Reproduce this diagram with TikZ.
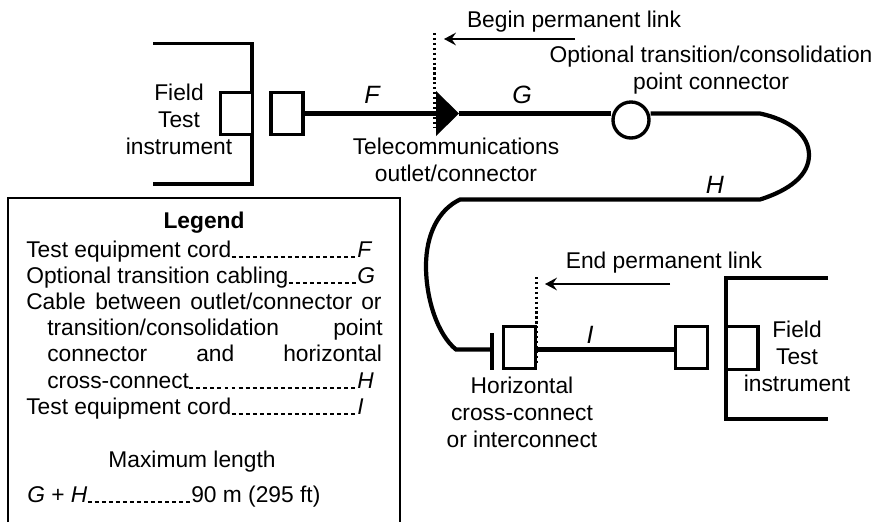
\documentclass[tikz,border=0pt]{standalone}
\usepackage{fontspec}
\setmainfont{Liberation Sans}
\usetikzlibrary{arrows.meta}
\tikzstyle{plugBox}=[draw,line width=2.4pt,fill=white,minimum width=0.8cm,minimum height=1.06cm,inner sep=0pt]
\tikzstyle{cableLine}=[line width=3pt]
\tikzstyle{wallLine}=[line width=2.4pt]
\tikzstyle{linkMark}=[line width=1.6pt, dash pattern=on 1.6pt off 1.9pt]
\tikzstyle{linkArrow}=[line width=1pt, -{Stealth[length=0.3cm,width=0.32cm,inset=0.11cm]}]
\tikzstyle{leader}=[line width=1.4pt, dash pattern=on 2.8pt off 2.2pt]
\tikzstyle{labelText}=[inner sep=0pt, align=center, font=\fontsize{16.2}{18.85}\selectfont, anchor=base]
\tikzstyle{legendText}=[inner sep=0pt, font=\fontsize{16.2}{18.85}\selectfont, anchor=base west]
\tikzstyle{cableLetter}=[inner sep=0pt, font=\fontsize{17.8}{20}\selectfont\itshape, anchor=base]

\begin{document}
\begin{tikzpicture}[x=0.025cm,y=-0.025cm]
    \useasboundingbox (0,0) rectangle (874,522);

    % Left instrument
    \draw[wallLine] (153,43.5) -- (252,43.5) -- (252,184) -- (153,184);
    \node[plugBox] (fieldBoxL) at (236.5,113.5) {};
    \node[plugBox] (plugL) at (287,113.5) {};
    \node[labelText] (fieldTextL) at (179,154) {Field\\Test\\instrument};

    % Outlet and cable F
    \coordinate (outletBase) at (436,113.5);
    \coordinate (outletTip) at (459,113.5);
    \draw[cableLine] (plugL.east) -- (outletBase);
    \fill (436,91) -- (outletTip) -- (436,136) -- cycle;
    \node[cableLetter] (letterF) at (372,103) {F};
    \node[labelText] (outletText) at (456,181) {Telecommunications\\outlet/connector};

    % Begin marker
    \coordinate (beginTop) at (434.5,33);
    \coordinate (beginEnd) at (434.5,127);
    \draw[linkMark] (beginTop) -- (beginEnd);
    \coordinate (beginFrom) at (575,39);
    \coordinate (beginTo) at (444,39);
    \draw[linkArrow] (beginFrom) -- (beginTo);
    \node[labelText] (beginText) at (574,27) {Begin permanent link};

    % Cable G and H
    \node[draw,circle,line width=2.4pt,minimum size=0.9cm,inner sep=0pt] (optConn) at (631,120) {};
    \coordinate (topBend) at (760,113.5);
    \coordinate (midBend) at (809,155);
    \coordinate (lowBend) at (760,199.5);
    \coordinate (lowLeft) at (460,199.5);
    \coordinate (farLeft) at (426,266);
    \coordinate (hccBend) at (456,349.5);
    \draw[cableLine] (outletTip) -- (outletTip -| optConn.west);
    \draw[cableLine] (outletTip -| optConn.east) -- (topBend) .. controls (790,120) and (809,135) .. (midBend)
        .. controls (809,175) and (790,190) .. (lowBend) -- (lowLeft)
        .. controls (438,210) and (426,235) .. (farLeft)
        .. controls (426,300) and (438,335) .. (hccBend) -- (492,349.5);
    \node[cableLetter] (letterG) at (522,103) {G};
    \node[labelText] (optText) at (711,89) {Optional transition/consolidation\\point connector};
    \node[cableLetter] (letterH) at (715,193) {H};

    % Horizontal cross-connect
    \coordinate (barTop) at (492,333);
    \coordinate (barEnd) at (492,370);
    \draw[wallLine] (barTop) -- (barEnd);
    \node[plugBox] (hccBox) at (519.5,347.5) {};
    \node[plugBox] (plugR) at (691.5,347.5) {};
    \draw[cableLine] (hccBox.east |- 0,349.5) -- (plugR.west |- 0,349.5);
    \node[cableLetter] (letterI) at (590,343) {I};
    \node[labelText] (hccText) at (522,447) {Horizontal\\cross-connect\\or interconnect};

    % End marker
    \coordinate (endTop) at (536.5,277);
    \coordinate (endEnd) at (536.5,365);
    \draw[linkMark] (endTop) -- (endEnd);
    \coordinate (endFrom) at (670,284);
    \coordinate (endTo) at (545,284);
    \draw[linkArrow] (endFrom) -- (endTo);
    \node[labelText] (endText) at (664,268) {End permanent link};

    % Right instrument
    \draw[wallLine] (828,278) -- (726,278) -- (726,419) -- (828,419);
    \node[plugBox] (fieldBoxR) at (742,348) {};
    \node[labelText] (fieldTextR) at (797,391) {Field\\Test\\instrument};

% Legend
\draw[line width=0.8pt] (8,522) -- (8,198) -- (400,198) -- (400,522);
\node[labelText] (legendTitle) at (204,228) {\textbf{Legend}};
\node[legendText] (cordF) at (26,257) {Test equipment cord};
\node[legendText] (legF) at (357,257) {\textit{F}};
\draw[leader] (cordF.base east) -- (legF.base west);
\node[legendText] (cablingG) at (26,283) {Optional transition cabling};
\node[legendText] (legG) at (357,283) {\textit{G}};
\draw[leader] (cablingG.base east) -- (legG.base west);
\node[legendText] (cableA) at (26,309) {Cable};
\node[legendText] (cableB) at (95,309) {between};
\node[legendText] (cableC) at (190,309) {outlet/connector};
\node[legendText] (cableD) at (361,309) {or};
\node[legendText] (cableE) at (47,335) {transition/consolidation};
\node[legendText] (cableF) at (333,335) {point};
\node[legendText] (cableG) at (47,361) {connector};
\node[legendText] (cableH) at (196,361) {and};
\node[legendText] (cableI) at (283,361) {horizontal};
\node[legendText] (crossH) at (47,388) {cross-connect};
\node[legendText] (legH) at (357,388) {\textit{H}};
\draw[leader] (crossH.base east) -- (legH.base west);
\node[legendText] (cordI) at (26,414) {Test equipment cord};
\node[legendText] (legI) at (357,414) {\textit{I}};
\draw[leader] (cordI.base east) -- (legI.base west);
\node[labelText] (maxText) at (192,467) {Maximum length};
\node[legendText] (sumGH) at (27,502) {\textit{G} + \textit{H}};
\node[legendText] (sumLen) at (191,502) {90 m (295 ft)};
\draw[leader] (sumGH.base east) -- (sumLen.base west);

\end{tikzpicture}
\end{document}
